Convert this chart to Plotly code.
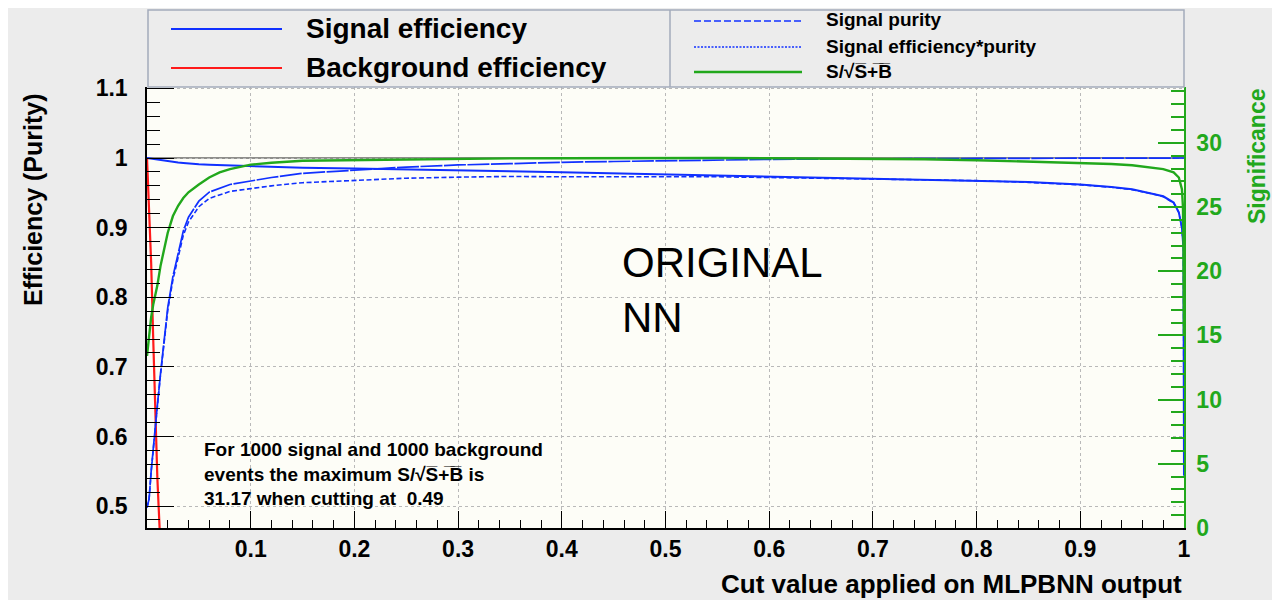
import plotly.graph_objects as go

# ---------------- data ----------------
cut = [0, 0.002, 0.004, 0.006, 0.008, 0.01, 0.013, 0.016, 0.02, 0.025, 0.03, 0.035,
       0.04, 0.05, 0.06, 0.07, 0.08, 0.1, 0.12, 0.15, 0.2, 0.25, 0.3, 0.35, 0.4,
       0.45, 0.5, 0.55, 0.6, 0.65, 0.7, 0.75, 0.8, 0.85, 0.9, 0.93, 0.95, 0.97,
       0.98, 0.99, 0.995, 0.998, 0.999, 0.9995, 1.0]

sig_eff = [1.0, 0.9995, 0.999, 0.9985, 0.998, 0.9975, 0.997, 0.9963, 0.9955, 0.9945,
           0.9935, 0.9928, 0.992, 0.991, 0.9903, 0.9898, 0.9894, 0.9885, 0.9875, 0.986,
           0.985, 0.984, 0.9828, 0.981, 0.9795, 0.978, 0.977, 0.9755, 0.974, 0.9725,
           0.971, 0.9695, 0.968, 0.9655, 0.962, 0.9585, 0.955, 0.949, 0.945, 0.936,
           0.922, 0.9, 0.886, 0.87, 0.544]

purity = [0.498, 0.51, 0.55, 0.585, 0.615, 0.645, 0.69, 0.73, 0.785, 0.83, 0.865, 0.895,
          0.915, 0.938, 0.951, 0.957, 0.962, 0.967, 0.972, 0.978, 0.983, 0.987, 0.99,
          0.9922, 0.9938, 0.995, 0.9963, 0.9972, 0.998, 0.9985, 0.999, 0.9993, 0.9995,
          0.9996, 0.9997, 0.9998, 0.9998, 0.9999, 0.9999, 1.0, 1.0, 1.0, 1.0, 1.0, 1.0]

eff_purity = [0.498, 0.51, 0.549, 0.584, 0.614, 0.643, 0.688, 0.727, 0.781, 0.825,
              0.859, 0.889, 0.908, 0.93, 0.942, 0.947, 0.952, 0.956, 0.96, 0.9645,
              0.968, 0.971, 0.9725, 0.9735, 0.973, 0.973, 0.9735, 0.973, 0.972, 0.971,
              0.97, 0.969, 0.9675, 0.965, 0.9615, 0.958, 0.9545, 0.9485, 0.9445, 0.9355,
              0.9215, 0.8995, 0.8855, 0.87, 0.544]

significance = [13.4, 15.0, 16.4, 17.4, 18.1, 18.9, 20.4, 21.6, 23.0, 24.3, 25.1, 25.7,
                26.15, 26.75, 27.3, 27.7, 27.95, 28.3, 28.45, 28.6, 28.65, 28.72, 28.76,
                28.79, 28.8, 28.82, 28.83, 28.82, 28.8, 28.78, 28.75, 28.72, 28.65, 28.55,
                28.44, 28.35, 28.26, 28.08, 27.95, 27.7, 27.3, 26.4, 25.0, 22.0, 15.1]

bkg_cut = [0, 0.002, 0.004, 0.006, 0.008, 0.01, 0.013, 0.016, 0.02, 0.03, 0.05, 0.1, 0.3, 1.0]
bkg_eff = [1.0, 0.93, 0.85, 0.74, 0.63, 0.54, 0.44, 0.36, 0.28, 0.16, 0.07, 0.02, 0.005, 0.0]

x_tickvals = [0.1, 0.2, 0.3, 0.4, 0.5, 0.6, 0.7, 0.8, 0.9, 1.0]
x_ticktext = ["0.1", "0.2", "0.3", "0.4", "0.5", "0.6", "0.7", "0.8", "0.9", "1"]

# ---------------- styling ----------------
FONT = "Liberation Sans, Arial, Helvetica, sans-serif"
BLUE = "#1030ff"
RED = "#ff1a1a"
GREEN = "#22a81c"
PAPER = "#ececec"
PLOTBG = "#fdfdf7"

fig = go.Figure()
fig.add_trace(go.Scatter(x=cut, y=sig_eff, mode="lines", name="Signal efficiency",
                         line=dict(color=BLUE, width=2)))
fig.add_trace(go.Scatter(x=bkg_cut, y=bkg_eff, mode="lines", name="Background efficiency",
                         line=dict(color=RED, width=2.2)))
fig.add_trace(go.Scatter(x=cut, y=purity, mode="lines", name="Signal purity",
                         line=dict(color=BLUE, width=1.7, dash="22px,1.5px")))
fig.add_trace(go.Scatter(x=cut, y=eff_purity, mode="lines", name="Signal efficiency*purity",
                         line=dict(color=BLUE, width=1.6, dash="5px,2.5px")))
fig.add_trace(go.Scatter(x=cut, y=significance, mode="lines", name="S/√S+B",
                         yaxis="y2", line=dict(color=GREEN, width=2.4)))

tickfont = dict(family=FONT, size=23, color="black", weight="bold")

# the page body adds an 8px offset, so the figure is 8px smaller and shifted
fig.update_layout(
    template="none",
    width=1272, height=592,
    margin=dict(l=139, r=96, t=79, b=72, pad=0),
    paper_bgcolor=PAPER, plot_bgcolor=PLOTBG,
    showlegend=False,
    font=dict(family=FONT, color="black"),
    xaxis=dict(range=[0, 1], tickmode="array", tickvals=x_tickvals, ticktext=x_ticktext,
               ticks="inside", ticklen=17, tickwidth=1.2, tickcolor="black",
               minor=dict(tickmode="linear", tick0=0, dtick=0.02, ticks="inside",
                          ticklen=8, tickwidth=1.2, tickcolor="black", showgrid=False),
               showline=True, linecolor="black", linewidth=1.5, mirror=False,
               showgrid=True, gridcolor="#b9b9b9", griddash="dot", gridwidth=1,
               zeroline=False, tickfont=tickfont, ticklabelstandoff=0, automargin=False),
    yaxis=dict(range=[0.4685, 1.102], tickmode="linear", tick0=0.5, dtick=0.1,
               ticks="inside", ticklen=27, tickwidth=1.2, tickcolor="black",
               minor=dict(tickmode="linear", tick0=0.5, dtick=0.02, ticks="inside",
                          ticklen=13, tickwidth=1.2, tickcolor="black", showgrid=False),
               showline=True, linecolor="black", linewidth=1.5,
               showgrid=True, gridcolor="#b9b9b9", griddash="dot", gridwidth=1,
               zeroline=False, tickfont=tickfont, ticklabelstandoff=13, automargin=False),
    yaxis2=dict(overlaying="y", side="right", range=[0, 34.35], tickmode="linear",
                tick0=0, dtick=5, ticks="inside", ticklen=26, tickwidth=1.5, tickcolor=GREEN,
                minor=dict(tickmode="linear", tick0=0, dtick=1, ticks="inside",
                           ticklen=13, tickwidth=1.5, tickcolor=GREEN, showgrid=False),
                showline=True, linecolor=GREEN, linewidth=1.5, showgrid=False,
                zeroline=False, tickfont=dict(family=FONT, size=23, color=GREEN, weight="bold"),
                ticklabelstandoff=6, automargin=False),
)

def px_x(x):
    return (x - 147) / 1037.0

def px_y(y):
    return (528 - y) / 441.0

shapes = [
    # reference line at efficiency = 1
    dict(type="line", xref="x", yref="y", x0=0, x1=1, y0=1, y1=1,
         line=dict(color="#202020", width=1.2), layer="below"),
    # legend box
    dict(type="rect", xref="paper", yref="paper", x0=px_x(148), x1=1.0,
         y0=1.0, y1=px_y(10), fillcolor=PAPER, line=dict(color="#a3abbb", width=1.5)),
    dict(type="line", xref="paper", yref="paper", x0=px_x(670), x1=px_x(670),
         y0=1.0, y1=px_y(10), line=dict(color="#a3abbb", width=1.5)),
    # legend samples
    dict(type="line", xref="paper", yref="paper", x0=px_x(171), x1=px_x(282),
         y0=px_y(29), y1=px_y(29), line=dict(color=BLUE, width=2.2)),
    dict(type="line", xref="paper", yref="paper", x0=px_x(171), x1=px_x(282),
         y0=px_y(68), y1=px_y(68), line=dict(color=RED, width=2.2)),
    dict(type="line", xref="paper", yref="paper", x0=px_x(694), x1=px_x(802),
         y0=px_y(21), y1=px_y(21), line=dict(color=BLUE, width=1.3, dash="7px,3px")),
    dict(type="line", xref="paper", yref="paper", x0=px_x(694), x1=px_x(802),
         y0=px_y(47), y1=px_y(47), line=dict(color=BLUE, width=1.3, dash="2px,1.5px")),
    dict(type="line", xref="paper", yref="paper", x0=px_x(694), x1=px_x(802),
         y0=px_y(72), y1=px_y(72), line=dict(color=GREEN, width=2.4)),
]

OV = "\u0305"
sqrt_sb = "S/√S" + OV + "+" + OV + "B" + OV

def ann(text, x, y, size, color="black", xanchor="left", yanchor="middle",
        weight="bold", angle=0, align="left", family=FONT):
    return dict(text=text, x=x, y=y, xref="paper", yref="paper", showarrow=False,
                xanchor=xanchor, yanchor=yanchor, textangle=angle, align=align,
                font=dict(family=family, size=size, color=color, weight=weight))

annotations = [
    ann("Signal efficiency", px_x(304), px_y(28), 28),
    ann("Background efficiency", px_x(304), px_y(67), 28),
    ann("Signal purity", px_x(824), px_y(20), 19),
    ann("Signal efficiency*purity", px_x(824), px_y(47), 19),
    ann(sqrt_sb, px_x(824), px_y(71), 19),
    ann("Efficiency (Purity)", px_x(33), px_y(200), 25, xanchor="center", angle=-90),
    ann("Significance", px_x(1257), px_y(157), 23, color=GREEN, xanchor="center", angle=-90),
    ann("Cut value applied on MLPBNN output", 1.0, px_y(584), 26, xanchor="right"),
    ann("For 1000 signal and 1000 background<br>events the maximum " + sqrt_sb +
        " is<br>31.17 when cutting at  0.49", px_x(202), px_y(474), 19),
    ann("ORIGINAL<br>NN", px_x(620), px_y(290), 42, weight="normal"),
]

fig.update_layout(shapes=shapes, annotations=annotations)

fig.write_html("out.html")
